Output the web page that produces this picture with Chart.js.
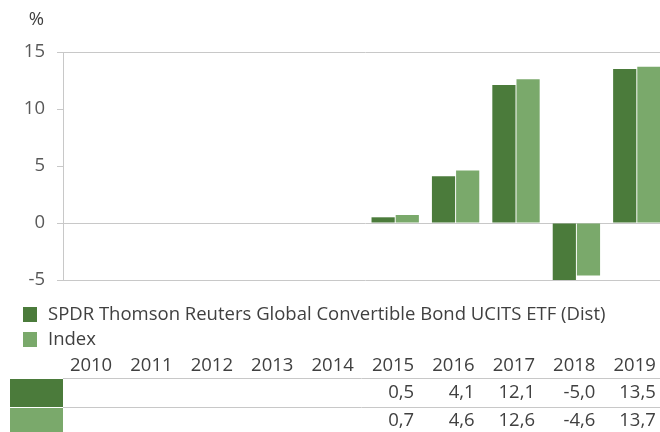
<!DOCTYPE html>
<html><head><meta charset="utf-8">
<script src="https://cdn.jsdelivr.net/npm/chart.js@4"></script>
<style>
html,body{margin:0;padding:0;overflow:hidden;background:#fff;width:660px;height:432px}
#wrap{position:relative;width:680px;height:432px}
</style>
</head><body><div id="wrap"><canvas id="c" width="680" height="432"></canvas></div>
<script>
const years = ['2010','2011','2012','2013','2014','2015','2016','2017','2018','2019'];
const fundValues = [null,null,null,null,null,0.5,4.1,12.1,-5.0,13.5];
const indexValues = [null,null,null,null,null,0.7,4.6,12.6,-4.6,13.7];
const seriesNames = ['SPDR Thomson Reuters Global Convertible Bond UCITS ETF (Dist)','Index'];
const yMin = -5, yMax = 15, yStep = 5;
const gridValues = [15, 0, -5];
const unitLabel = '%';
const colors = ['#4b7b3b','#7aa96b'];

const FONT = '"Open Sans", sans-serif';
const TEXT = '#404040';
const LINE = '#c8c8c8';

const fmt = v => (v === null ? '' : v.toFixed(1).replace('.', ','));

const extras = {
  id: 'extras',
  afterDraw(chart) {
    const ctx = chart.ctx;
    const xs = chart.scales.x;
    const area = chart.chartArea;
    ctx.save();
    // unit label
    ctx.fillStyle = '#404040';
    ctx.font = '18.5px ' + FONT;
    ctx.textAlign = 'right';
    ctx.textBaseline = 'middle';
    ctx.fillText(unitLabel, 44, 20);

    // legend
    ctx.textAlign = 'left';
    ctx.font = '18.5px ' + FONT;
    const legY = [314, 339];
    seriesNames.forEach((n, i) => {
      ctx.fillStyle = colors[i];
      ctx.fillRect(23, legY[i] - 7, 14, 15);
      ctx.fillStyle = TEXT;
      ctx.fillText(n, 48, legY[i] + 1);
    });

    // table
    ctx.font = '18.5px ' + FONT;
    ctx.textAlign = 'right';
    ctx.fillStyle = TEXT;
    years.forEach((y, i) => {
      ctx.fillText(y, xs.getPixelForValue(i) + 19, 366);
    });
    ctx.strokeStyle = LINE;
    ctx.lineWidth = 1;
    [378.5, 407.5].forEach(yy => {
      ctx.beginPath(); ctx.moveTo(area.left, yy); ctx.lineTo(660, yy); ctx.stroke();
    });
    ctx.fillStyle = colors[0];
    ctx.fillRect(10, 379, 53, 28);
    ctx.fillStyle = colors[1];
    ctx.fillRect(10, 408, 53, 24);
    ctx.fillStyle = TEXT;
    [fundValues, indexValues].forEach((arr, r) => {
      const yy = r === 0 ? 393 : 421;
      arr.forEach((v, i) => {
        if (v !== null) ctx.fillText(fmt(v), xs.getPixelForValue(i) + 19, yy);
      });
    });
    ctx.restore();
  }
};

new Chart(document.getElementById('c'), {
  type: 'bar',
  data: {
    labels: years,
    datasets: [
      { label: seriesNames[0], data: fundValues, backgroundColor: colors[0] },
      { label: seriesNames[1], data: indexValues, backgroundColor: colors[1] }
    ]
  },
  options: {
    responsive: false,
    animation: false,
    devicePixelRatio: 1,
    datasets: { bar: { categoryPercentage: 0.8, barPercentage: 0.96 } },
    layout: { padding: { top: 52, bottom: 152, left: 0, right: 13 } },
    plugins: { legend: { display: false }, tooltip: { enabled: false }, title: { display: false } },
    scales: {
      x: { display: false },
      y: {
        min: yMin, max: yMax,
        afterFit(s) { s.width = 63; },
        ticks: { stepSize: yStep, color: '#595959', font: { family: FONT, size: 18.5 }, padding: 12 },
        grid: {
          color: c => gridValues.includes(c.tick.value) ? LINE : 'rgba(0,0,0,0)',
          tickColor: LINE, tickLength: 6, lineWidth: 1
        },
        border: { display: true, color: LINE }
      }
    }
  },
  plugins: [extras]
});
</script>
</body></html>
